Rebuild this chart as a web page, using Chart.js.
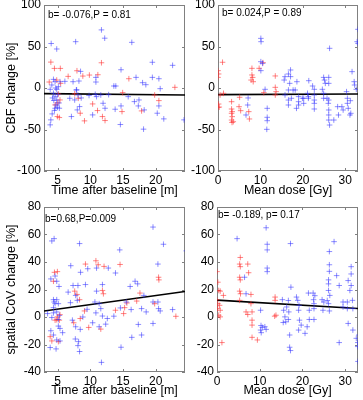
<!DOCTYPE html>
<html>
<head>
<meta charset="utf-8">
<script src="https://cdn.jsdelivr.net/npm/chart.js@4.4.1/dist/chart.umd.min.js"></script>
<style>
  html, body { margin: 0; padding: 0; background: #fff; }
  #wrap { position: relative; width: 363px; height: 400px; }
  canvas { position: absolute; }
</style>
</head>
<body>
<div id="wrap">
  <canvas id="p1" width="190" height="200" style="left:0;top:0"></canvas>
  <canvas id="p2" width="173" height="200" style="left:190px;top:0"></canvas>
  <canvas id="p3" width="190" height="200" style="left:0;top:200px"></canvas>
  <canvas id="p4" width="173" height="200" style="left:190px;top:200px"></canvas>
</div>
<script>
// tick labels
const timeTicks = [5, 10, 15, 20];
const doseTicks = [0, 10, 20, 30];
const cbfTicks = [-100, -50, 0, 50, 100];
const covTicks = [-40, -20, 0, 20, 40, 60, 80];

// CBF change vs time after baseline
const cbfTimeBlue = [
    [4.0, 53.6], [4.85, 47], [11.7, 70], [12.2, 60], [7.75, 55.8], [16.35, 55], [19.5, 31], [22.6, 27.3],
    [14.7, 22], [8.5, 20], [8.25, 8.4], [10.85, 12.8], [10.85, 7.2], [17, 12.8], [19.5, 12.8], [20.5, 11.2],
    [18, 6.4], [13.6, 2.4], [13.9, 2.4], [18.5, 4], [20.7, -0.8], [4.35, 10.4], [4.6, 7.6], [4.1, 3.6],
    [3.85, -1.6], [4.85, -1.6], [5.1, 1.6], [5.35, 7.6], [6.1, 8], [4.35, -6.4], [4.6, -10.4], [4.85, -14.4],
    [4.75, -20.4], [4.95, -23.2], [5.25, -24.4], [4.6, -24.4], [4.15, -31.2], [3.95, -38.4], [3.85, -44.4],
    [7.35, 7.6], [7.85, -2.4], [8.1, -8.4], [6.85, -12.4], [7.6, -14.4], [8.35, -22.4], [8.0, -26.4],
    [7.1, -34.4], [10.35, -32.4], [10.75, -7.6], [10.95, -10.4], [11.6, -8.4], [11.95, -18.4], [12.25, -24.4],
    [13.8, -25.6], [14.6, -44], [14.7, -21.6], [16.75, -16.4], [17.45, -14.4], [17.35, -21.6], [18.25, -26.4],
    [18.15, -49.6], [20.25, -30.4], [20.5, -21.6], [21.25, -37.2], [24.35, -38.4], [15.8, -10.4], [7.9, -2.2],
    [8.6, -12], [9.8, -9], [12.8, -8], [4.4, -15], [5.0, -8], [4.2, -12], [4.7, 0], [5.2, -18], [4.5, -27]
];
const cbfTimeRed = [
    [3.95, 31.2], [4.5, 23.6], [5.4, 23.6], [3.7, 7.2], [4.85, 9.6], [5.45, 5.6], [6.6, 14], [7.95, 20.8],
    [8.85, 14.4], [9.85, 15.6], [11.15, 16], [11.7, 30.4], [15.9, 11.2], [22.95, 0.8], [5.1, -7.2],
    [5.35, -14.4], [4.6, -20.4], [4.95, -34.4], [5.25, -35.6], [8.15, -12.4], [8.45, -30.4], [9.1, -39.6],
    [10.35, -19.2], [11.1, -27.2], [11.85, -34.4], [12.25, -39.2], [14.95, -5.6], [14.85, -28.4],
    [17.85, -27.6], [19.85, -8.4], [20.5, -15.2], [7.6, -7], [5.0, -18]
];
const cbfTimeFit = [[2.9, -6.8], [24.5, -8.4]];

// CBF change vs mean dose
const cbfDoseRed = [
    [0, 20.9], [0.15, 16.9], [0, 12.8], [0.15, -19.3], [0, -23.3], [0.3, -23], [0.5, -8.4], [1.07, 31],
    [1.3, -6.4], [3.2, -16.5], [3.2, -25.3], [3.35, -28.5], [3.2, -30.5], [3.35, -34.5], [3.2, -38.6],
    [3.6, -40.6], [3.3, -41.5], [4.96, -22.5], [5.34, -27.3], [5.1, -11.2], [7.25, -28.5], [7.4, -37.3],
    [8.0, 23.7], [8.0, 15.7], [8.17, 12.8], [7.8, 9.6], [8.3, 7.6], [9.7, 23.7], [10.6, 30.5], [10.8, -5.6],
    [13.5, 14.5], [13.5, 0.8], [13.7, -4.4], [13.5, -8.4]
];
const cbfDoseBlue = [
    [10.1, 59.8], [10.15, 55.8], [10.1, 31.7], [10.5, 29.7], [10.1, 20.9], [11.1, -1.6], [11.6, -24.5],
    [11.6, -35.3], [11.6, -39.4], [11.5, -49.8], [7, -20.5], [6.6, -32.5], [7.1, -12], [15.6, 9.6],
    [15.8, 13.7], [16.6, 16.9], [17.1, 21.7], [17.1, 13.7], [16.9, 5.6], [16.6, -2.4], [15.8, -8.4],
    [16.6, -14.5], [16.6, -20.5], [17.3, -12.4], [17.7, -2.4], [18.2, -2.4], [18.6, 7.6], [18.5, -24.5],
    [19, -20.5], [19, -10.4], [19, -16.5], [20.2, -18.5], [19.9, -12.4], [21.4, 8.8], [21.1, -6.4],
    [21.3, -10.4], [22.3, 2.4], [22.7, -1.6], [22.7, -8.4], [22.7, -14.5], [22.7, -18.5], [22.7, -25.3],
    [24.6, -1.6], [24.9, -12.4], [24.9, 12.8], [25.1, 9.6], [25.3, 5.6], [24.9, -6.4], [25.7, -12.4],
    [26, -18.5], [26.1, 12.8], [26.3, 47.8], [26.1, 5.6], [26.1, -14.5], [26.1, -26.5], [26.1, -32.5],
    [26.1, -38.6], [26.3, -44.6], [27.3, -38.6], [28.4, -32.5], [28.2, -22.5], [29.2, -22.5], [29.5, -26.5],
    [30.3, -4.4], [30.5, -12.4], [30.5, -18.5], [30.7, -24.5], [31.1, -32.5], [31.3, -30.5], [31.6, 19.7],
    [31.2, -15.3], [32.1, 7.6], [32.2, 3.6], [32.6, -1.6], [33, 70.7], [32.8, 55.8], [33, 53.8],
    [20.2, -12.4], [21.3, -12.4]
];
const cbfDoseFit = [[0, -8.0], [33, -7.2]];

// spatial CoV change vs time after baseline
const covTimeBlue = [
    [4.1, 55.3], [4.45, 57], [8.35, 53.4], [19.6, 65.4], [21.2, 52.9], [24.7, 48.1], [14.5, 48.8], [7, 37.3],
    [9.6, 35.1], [10.95, 35.6], [12.75, 35.6], [13.85, 32], [20.35, 38.5], [8.5, 32.5], [4.6, 29.8],
    [3.95, 27.7], [4.85, 26], [5.2, 22.2], [7.35, 22.9], [8.1, 22.9], [9.25, 23.6], [11.85, 23.6],
    [16.85, 26], [17.25, 24.1], [16.1, 22.2], [6.6, 18.1], [7.75, 15.7], [10.95, 18.8], [8, 12.1],
    [6.95, 10.4], [4.35, 12.6], [4.45, 10.9], [4.6, 9.7], [4.85, 12.6], [5.1, 9.7], [4.35, 6.8],
    [4.85, 3.7], [5.25, 1.2], [4.35, 3.0], [3.45, 2.5], [4.1, -0.4], [5.1, -1.8], [5.1, -6.6], [5.35, -8.3],
    [3.95, -10], [4.35, -13.1], [4.85, -16.7], [5.75, -11.4], [5.35, -17.4], [3.85, -22.2], [4.75, -23.2],
    [7.7, -16], [8.2, -17.9], [8.1, -20.8], [8.35, -25.1], [7.75, -7.1], [8.45, -9], [7.25, -2.3],
    [8.85, 0], [9.5, 5.6], [10.7, 10.9], [11.35, 9.7], [11.6, 6.1], [10.85, 3], [11.85, 0.7],
    [12.6, -1.1], [10.35, -4.2], [11.35, -7.1], [12.35, -5.2], [11.7, -33], [13.6, 0.6], [14.6, 6.6],
    [14.7, -22], [15.5, 10.9], [16.25, 5.4], [16.35, -14.8], [17.35, -5.4], [17.85, -13.1], [18.2, 15.7],
    [17.85, 6.1], [18.55, 3.7], [19.6, 10.9], [20.35, 10.9], [20.45, 6.1], [20.7, 4.4], [19.6, -4.7],
    [22.6, 5.4]
];
const covTimeRed = [
    [3.85, -14.3], [4.1, -17.4], [4.5, 32.5], [4.95, 33], [4.35, 26], [4.6, -2.3], [4.85, -2.0],
    [5.25, -2.3], [5.1, -17.9], [5.35, 1.7], [4.95, 0.1], [7.6, 18.8], [7.95, 16.4], [7.45, -4.2],
    [8.45, -1.1], [9.1, 4.4], [8.35, 12.6], [9.75, -7.6], [9.25, 38.5], [10.85, 40.9], [11.2, 38],
    [12, 16.9], [11.85, 19.3], [11.6, -8.8], [12.1, 36.8], [14.55, 38.2], [15.6, 10.2], [15.25, 6.8],
    [15.1, 2.5], [17.1, 11.6], [17.6, 17.4], [19.85, 9.7], [20.45, 28.9], [20.5, 27], [23.1, 0.5],
    [13.85, 4.9]
];
const covTimeFit = [[2.9, 4.4], [24.5, 18.6]];

// spatial CoV change vs mean dose
const covDoseRed = [
    [0, 33], [0.2, 25.3], [0.4, 19.3], [0.75, 18.8], [0, 12.6], [0.2, 9.7], [0.6, 8.5], [0.15, 6.1],
    [0.75, 4.9], [0.4, 1.3], [0.75, 0.1], [1.15, -18.6], [1.5, 15.7], [5.45, 43.3], [5.3, 38.5],
    [5.45, 36.6], [5.3, 28.9], [5.45, 27], [5.3, 18.8], [5.5, 16.9], [5.3, 12.1], [7.2, 38.5], [7.4, 32.2],
    [6.8, 3.7], [7.2, 1.8], [7.95, 9.7], [8.2, 3.7], [8.2, -2.3], [8.2, -5.9], [8.2, -14.8], [7.95, 16.4],
    [9.45, -16.7], [13.6, 14.5], [13.6, 12.1], [13.8, 1.3], [13.5, 0.6]
];
const covDoseBlue = [
    [4.7, 57], [6.45, 28.9], [6.8, 16.9], [10.3, -6.2], [10.2, -9.5], [10.35, -11.4], [10.6, -7.5],
    [10.2, 4.9], [11.5, 64.9], [11.75, 52.9], [11.75, 48.8], [11.75, 35.6], [11.75, 33], [11.2, -7.1],
    [11.5, -9], [15.3, 12.6], [15.6, 4.9], [15.9, 0.1], [16.1, -3.5], [15.5, -4], [16.3, 7.3], [16.7, 12],
    [16.8, 3.7], [16.7, -1.8], [17, -13.1], [17, -22], [17.2, -24.4], [17.2, 53.4], [17.3, 21.7],
    [18.6, 14.5], [18.9, 12.1], [19.2, 8.5], [19.1, 4.9], [19.3, -2.3], [19.1, -9.5], [19.7, -5.9],
    [20.6, -11.9], [21.1, -7.1], [21.4, 17.4], [21.6, 4.9], [21.6, -1.8], [22.5, 17.4], [22.6, 12.6],
    [22.7, 9.7], [22.7, 6.1], [22.7, -1.8], [22.9, 15.5], [24.6, 12.6], [25, 10.9], [24.8, 4.9],
    [25.8, 12], [26.1, 19.3], [26.1, 24.1], [26.3, 33.2], [26.1, 27], [26.3, 38], [26.3, 47.6],
    [26.4, 15.7], [26.1, 9.7], [26.3, 4.4], [27.4, 54.8], [28, 30.1], [28.6, 22.9], [28.6, -18.6],
    [29.5, 10.9], [29.5, 7.3], [30.5, 10.9], [30.5, 6.1], [30.7, -4.7], [30.7, 26.5], [31.1, 19.3],
    [31.4, 36.6], [31.4, 31.3], [31.4, 22.9], [31.7, 12.1], [31.8, 6.1], [31.8, -9.5], [32.6, -15.5],
    [32.95, -18.6], [32.95, -21.5], [33, -32.3], [33.2, -13.1]
];
const covDoseFit = [[0, 12.3], [33, 6.2]];

const notes = ["b= -0.076,P = 0.81", "b= 0.024,P = 0.89", "b=0.68,P=0.009", "b= -0.189, p= 0.17"];

const family = '"Liberation Sans", Arial, Helvetica, sans-serif';
const blueCol = 'rgba(50, 50, 255, 0.55)';
const redCol = 'rgba(255, 50, 50, 0.6)';

const boxPlugin = {
    id: 'panelBox',
    beforeDatasetsDraw(chart) {
        const {ctx, chartArea: a, scales: {x, y}} = chart;
        ctx.save();
        ctx.strokeStyle = '#808080';
        ctx.lineWidth = 1;
        ctx.strokeRect(Math.round(a.left) + 0.5, Math.round(a.top) + 0.5,
            Math.round(a.width) - 1, Math.round(a.height) - 1);
        ctx.beginPath();
        for (const t of x.ticks) {
            const px = Math.round(x.getPixelForValue(t.value)) + 0.5;
            ctx.moveTo(px, a.bottom); ctx.lineTo(px, a.bottom - 3);
            ctx.moveTo(px, a.top); ctx.lineTo(px, a.top + 3);
        }
        for (const t of y.ticks) {
            const py = Math.round(y.getPixelForValue(t.value)) + 0.5;
            ctx.moveTo(a.left, py); ctx.lineTo(a.left + 3, py);
            ctx.moveTo(a.right, py); ctx.lineTo(a.right - 3, py);
        }
        ctx.stroke();
        ctx.restore();
    },
    afterDraw(chart, args, opts) {
        const {ctx, chartArea: a} = chart;
        ctx.save();
        ctx.fillStyle = '#000';
        ctx.font = '10px ' + family;
        ctx.textBaseline = 'middle';
        ctx.fillText(opts.text, a.left + opts.dx, a.top + opts.dy);
        ctx.restore();
    }
};

function makePanel(id, p) {
    const toPts = arr => arr.map(([x, y]) => ({x, y}));
    const cross = col => ({
        pointStyle: 'cross', pointRadius: 2.8, pointBorderWidth: 1,
        borderColor: col, pointBorderColor: col, backgroundColor: col
    });
    const noGrid = {display: false, drawTicks: false, tickLength: 0};
    new Chart(document.getElementById(id), {
        type: 'scatter',
        data: {
            datasets: [
                Object.assign({data: toPts(p.blue)}, cross(blueCol)),
                Object.assign({data: toPts(p.red)}, cross(redCol)),
                {
                    type: 'line', data: toPts(p.fit), borderColor: '#000', borderWidth: 1.6,
                    pointRadius: 0, fill: false, tension: 0
                }
            ]
        },
        options: {
            responsive: false,
            animation: false,
            layout: {padding: {top: p.padTop, right: p.padRight, left: 0, bottom: 0}},
            plugins: {
                legend: {display: false},
                tooltip: {enabled: false},
                panelBox: {text: p.note, dx: p.noteDx, dy: p.noteDy}
            },
            scales: {
                x: {
                    type: 'linear', min: p.xMin, max: p.xMax,
                    grid: noGrid, border: {display: false},
                    afterBuildTicks: s => { s.ticks = p.xTicks.map(v => ({value: v})); },
                    afterFit: s => { s.height = p.xHeight; s.paddingLeft = 0; s.paddingRight = 0; },
                    ticks: {color: '#000', font: {size: 12, family}, padding: 2, maxRotation: 0, autoSkip: false},
                    title: {
                        display: true, text: p.xTitle, color: '#000',
                        font: {size: 12.5, family}, padding: {top: 0, bottom: p.xTitlePad}
                    }
                },
                y: {
                    type: 'linear', min: p.yMin, max: p.yMax,
                    grid: noGrid, border: {display: false},
                    afterBuildTicks: s => { s.ticks = p.yTicks.map(v => ({value: v})); },
                    afterFit: s => { s.width = p.yWidth; s.paddingTop = 0; s.paddingBottom = 0; },
                    ticks: {color: '#000', font: {size: 12, family}, padding: 3, autoSkip: false},
                    title: {
                        display: !!p.yTitle, text: p.yTitle || '', color: '#000',
                        font: {size: 12.5, family}, padding: {top: 4.5, bottom: 0}
                    }
                }
            }
        },
        plugins: [boxPlugin]
    });
}

makePanel('p1', {
    blue: cbfTimeBlue, red: cbfTimeRed, fit: cbfTimeFit, note: notes[0], noteDx: 4, noteDy: 10,
    xMin: 2.9, xMax: 24.5, xTicks: timeTicks, xTitle: 'Time after baseline [m]',
    yMin: -100, yMax: 100, yTicks: cbfTicks, yTitle: 'CBF change [%]',
    padTop: 5, padRight: 2, yWidth: 44, xHeight: 29, xTitlePad: 2
});
makePanel('p2', {
    blue: cbfDoseBlue, red: cbfDoseRed, fit: cbfDoseFit, note: notes[1], noteDx: 4, noteDy: 8,
    xMin: 0, xMax: 33, xTicks: doseTicks, xTitle: 'Mean dose [Gy]',
    yMin: -100, yMax: 100, yTicks: cbfTicks, yTitle: null,
    padTop: 5, padRight: 1, yWidth: 28, xHeight: 29, xTitlePad: 2
});
makePanel('p3', {
    blue: covTimeBlue, red: covTimeRed, fit: covTimeFit, note: notes[2], noteDx: 1, noteDy: 12,
    xMin: 2.9, xMax: 24.5, xTicks: timeTicks, xTitle: 'Time after baseline [m]',
    yMin: -40, yMax: 80, yTicks: covTicks, yTitle: 'spatial CoV change [%]',
    padTop: 7, padRight: 2, yWidth: 44, xHeight: 28, xTitlePad: 1.5
});
makePanel('p4', {
    blue: covDoseBlue, red: covDoseRed, fit: covDoseFit, note: notes[3], noteDx: 1, noteDy: 8,
    xMin: 0, xMax: 33, xTicks: doseTicks, xTitle: 'Mean dose [Gy]',
    yMin: -40, yMax: 80, yTicks: covTicks, yTitle: null,
    padTop: 7, padRight: 1, yWidth: 27, xHeight: 28, xTitlePad: 1.5
});
</script>
</body>
</html>
